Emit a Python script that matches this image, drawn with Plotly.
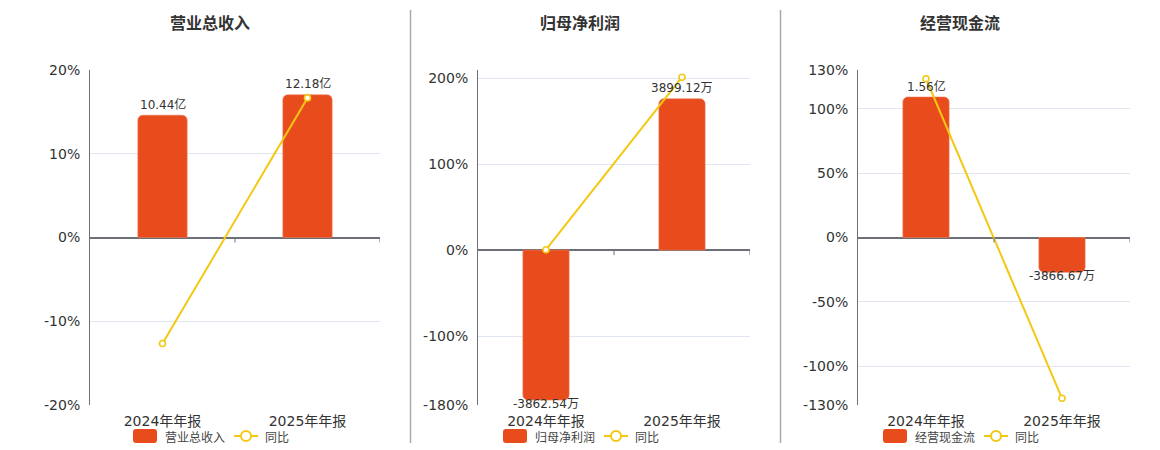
import plotly.graph_objects as go

# the page puts the figure 8px in from the top-left corner
OFF = 8
W, H = 1152, 442

categories = ["2024年年报", "2025年年报"]

titles = ["营业总收入", "归母净利润", "经营现金流"]

# bar values: 亿 for panel 1, 万 for panels 2 and 3
revenue = [10.44, 12.18]
net_profit = [-3862.54, 3899.12]
cash_flow = [15600.0, -3866.67]

bar_labels = [
    ["10.44亿", "12.18亿"],
    ["-3862.54万", "3899.12万"],
    ["1.56亿", "-3866.67万"],
]

# year-on-year, %
revenue_yoy = [-12.66, 16.67]
net_profit_yoy = [0.5, 200.95]
cash_flow_yoy = [123.2, -124.79]

pct_ticks = [
    [-20, -10, 0, 10, 20],
    [-180, -100, 0, 100, 200, 209.3],
    [-130, -100, -50, 0, 50, 100, 130],
]
pct_text = [
    ["-20%", "-10%", "0%", "10%", "20%"],
    ["-180%", "-100%", "0%", "100%", "200%", ""],
    ["-130%", "-100%", "-50%", "0%", "50%", "100%", "130%"],
]
pct_ranges = [[-20, 20], [-180, 209.3], [-130, 130]]
bar_ranges = [[-14.3, 14.3], [-3990, 4640], [-18600, 18600]]

bars = [revenue, net_profit, cash_flow]
yoys = [revenue_yoy, net_profit_yoy, cash_flow_yoy]


def px_x(x):
    return (x - OFF) / W


def px_y(y):
    return 1 - (y - OFF) / H


# plot areas in screen pixels (left, right), centres of the panels
x_px = [(90, 380), (478, 750), (858, 1130)]
centres = [210, 580, 960]
legend_left = [133, 503, 883]
y_dom = [px_y(405), px_y(70)]

BAR = "#e84c1d"
LINE = "#f4c812"
TXT = "#333333"
GRID = "#e0e6f1"
AX = "#6e7079"
FONT = "DejaVu Sans, Noto Sans CJK SC, sans-serif"
CJK = "Noto Sans CJK SC, sans-serif"

fig = go.Figure()
layout = {}
shapes = []
annotations = []


def rounded_rect(x0, y0, x1, y1, r):
    # path in paper coords, corners given in screen px
    ax, bx = px_x(x0), px_x(x1)
    ay, by = px_y(y1), px_y(y0)
    rx, ry = r / W, r / H
    return (f"M{ax + rx},{ay} L{bx - rx},{ay} Q{bx},{ay} {bx},{ay + ry} "
            f"L{bx},{by - ry} Q{bx},{by} {bx - rx},{by} L{ax + rx},{by} "
            f"Q{ax},{by} {ax},{by - ry} L{ax},{ay + ry} Q{ax},{ay} {ax + rx},{ay} Z")


for i in range(3):
    n = i + 1
    xa = "x" if n == 1 else f"x{n}"
    ya_bar = "y" if n == 1 else f"y{n}"
    ya_pct = f"y{n + 3}"

    fig.add_trace(go.Bar(
        x=categories, y=bars[i], xaxis=xa, yaxis=ya_bar,
        name=titles[i], showlegend=False,
        marker=dict(color=BAR, line=dict(color="#f07a55", width=0.6), cornerradius=5),
        width=0.34,
        hoverinfo="skip",
    ))
    fig.add_trace(go.Scatter(
        x=categories, y=yoys[i], xaxis=xa, yaxis=ya_pct,
        name="同比", showlegend=False, mode="lines+markers",
        line=dict(color=LINE, width=2),
        marker=dict(symbol="circle", size=6, color="white", line=dict(color=LINE, width=1.6)),
        cliponaxis=False,
        hoverinfo="skip",
    ))

    # value labels at the end of each bar (echarts style: tight to the bar end)
    for cat, val, lab in zip(categories, bars[i], bar_labels[i]):
        annotations.append(dict(
            text=lab, xref=xa, yref=ya_bar, x=cat, y=val,
            xanchor="center", yanchor="middle",
            yshift=11 if val >= 0 else -4,
            showarrow=False, font=dict(size=12, color=TXT, family=FONT),
        ))

    l, r = x_px[i]
    xkey = "xaxis" if n == 1 else f"xaxis{n}"
    layout[xkey] = dict(
        domain=[px_x(l), px_x(r)], anchor=ya_bar, type="category", range=[-0.5, 1.5],
        showgrid=False, showline=False, ticks="", zeroline=False,
        ticklabelstandoff=6,
        tickfont=dict(size=14, color=TXT, family=FONT),
    )
    ybkey = "yaxis" if n == 1 else f"yaxis{n}"
    layout[ybkey] = dict(
        domain=y_dom, anchor=xa, range=bar_ranges[i],
        visible=False, showgrid=False, zeroline=False,
    )
    layout[f"yaxis{n + 3}"] = dict(
        domain=y_dom, anchor=xa, overlaying=ya_bar, side="left",
        range=pct_ranges[i], tickmode="array",
        tickvals=pct_ticks[i], ticktext=pct_text[i],
        showgrid=True, gridcolor=GRID, gridwidth=1,
        zeroline=True, zerolinecolor=AX, zerolinewidth=2,
        showline=True, linecolor=AX, linewidth=1,
        ticks="", ticklabelstandoff=6,
        tickfont=dict(size=14, color=TXT, family=FONT),
    )
    # small ticks hanging off the zero axis between categories and at the end
    for xv in (0.5, 1.5):
        shapes.append(dict(
            type="line", xref=xa, yref=ya_pct, x0=xv, x1=xv,
            ysizemode="pixel", yanchor=0, y0=0, y1=-5,
            line=dict(color=AX, width=1),
        ))

    annotations.append(dict(
        text=f"<b>{titles[i]}</b>", xref="paper", yref="paper",
        x=px_x(centres[i]), y=px_y(22), xanchor="center", yanchor="middle",
        showarrow=False, font=dict(size=16, color=TXT, family=CJK),
    ))

    # legend: bar swatch, name, line swatch with ring, 同比
    L = legend_left[i]
    shapes.append(dict(
        type="path", xref="paper", yref="paper",
        path=rounded_rect(L, 429, L + 24, 443, 3),
        fillcolor=BAR, line=dict(width=0),
    ))
    annotations.append(dict(
        text=titles[i], xref="paper", yref="paper",
        x=px_x(L + 30), y=px_y(436.5), xanchor="left", yanchor="middle",
        showarrow=False, font=dict(size=12, color="#444444", family=CJK),
    ))
    shapes.append(dict(
        type="line", xref="paper", yref="paper",
        x0=px_x(L + 101), x1=px_x(L + 125), y0=px_y(436), y1=px_y(436),
        line=dict(color=LINE, width=2),
    ))
    shapes.append(dict(
        type="circle", xref="paper", yref="paper",
        x0=px_x(L + 108), x1=px_x(L + 118), y0=px_y(431), y1=px_y(441),
        fillcolor="white", line=dict(color=LINE, width=2),
    ))
    annotations.append(dict(
        text="同比", xref="paper", yref="paper",
        x=px_x(L + 130), y=px_y(436.5), xanchor="left", yanchor="middle",
        showarrow=False, font=dict(size=12, color="#444444", family=CJK),
    ))

for xs in (410.5, 780.5):
    shapes.append(dict(
        type="line", xref="paper", yref="paper",
        x0=px_x(xs), x1=px_x(xs), y0=px_y(443), y1=px_y(10),
        line=dict(color="#aaaaaa", width=1.5),
    ))

fig.update_layout(
    width=W, height=H,
    margin=dict(l=0, r=0, t=0, b=0, autoexpand=False),
    paper_bgcolor="white", plot_bgcolor="white",
    showlegend=False,
    shapes=shapes, annotations=annotations,
    font=dict(family=FONT, color=TXT),
    **layout,
)

fig.write_html("out.html")
